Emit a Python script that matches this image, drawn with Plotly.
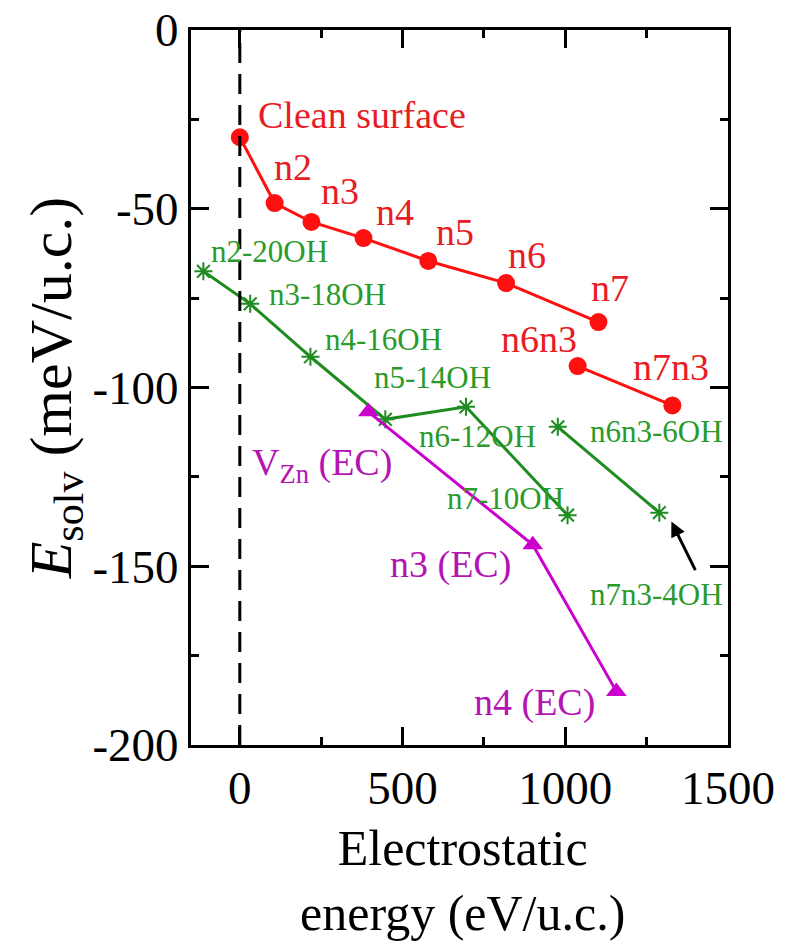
import plotly.graph_objects as go

# ---------------- data ----------------
red1_labels = ["Clean surface", "n2", "n3", "n4", "n5", "n6", "n7"]
red1_x = [0, 107, 220, 380, 579, 818, 1102]
red1_y = [-30, -48.4, -53.7, -58.2, -64.6, -70.8, -81.7]

red2_labels = ["n6n3", "n7n3"]
red2_x = [1038, 1329]
red2_y = [-94, -105]

green1_labels = ["n2-20OH", "n3-18OH", "n4-16OH", "n5-14OH", "n6-12OH", "n7-10OH"]
green1_x = [-112, 32, 217, 447, 695, 1007]
green1_y = [-67.5, -76.6, -91.4, -108.9, -105.4, -135.7]

green2_labels = ["n6n3-6OH", "n7n3-4OH"]
green2_x = [977, 1289]
green2_y = [-111, -135]

mag_labels = ["V<sub>Zn</sub> (EC)", "n3 (EC)", "n4 (EC)"]
mag_x = [395, 900, 1157]
mag_y = [-106.8, -144, -185]

x_ticks = [0, 500, 1000, 1500]
y_ticks = [0, -50, -100, -150, -200]

# ---------------- style ----------------
RED = "#ff1010"
RED_T = "#e81c24"
GREEN = "#1e8c1e"
GREEN_T = "#2a9a2a"
MAG = "#cc00cc"
MAG_T = "#b414b4"
SERIF = "Liberation Serif"

red1_off = [(16, 22, "left"), (18, 36, "center"), (29, 31, "center"), (32, 26, "center"),
            (27, 29, "center"), (21, 28, "center"), (12, 34, "center")]
red2_off = [(-39, 27, "center"), (-1, 38, "center")]
green1_off = [(66, 20, "center"), (77, 9, "center"), (73, 17, "center"), (47, 42, "center"),
              (11, -30, "center"), (-62, 17, "center")]
green2_off = [(99, -5, "center"), (-3, -82, "center")]
mag_off = [(-46, -53, "center"), (-82, -20, "center"), (-82, -11, "center")]

fig = go.Figure()

def add_series(xs, ys, color, symbol, size, lw, mline=0):
    fig.add_trace(go.Scatter(
        x=xs, y=ys, mode="lines+markers",
        line=dict(color=color, width=lw),
        marker=dict(symbol=symbol, size=size, color=color,
                    line=dict(color=color, width=mline)),
        showlegend=False, cliponaxis=False, hoverinfo="skip"))

add_series(red1_x, red1_y, RED, "circle", 18, 3)
add_series(red2_x, red2_y, RED, "circle", 18, 3)
add_series(green1_x, green1_y, GREEN, "asterisk-open", 15, 3, 2)
add_series(green2_x, green2_y, GREEN, "asterisk-open", 15, 3, 2)
add_series(mag_x, mag_y, MAG, "triangle-up", 18, 3)

def add_labels(labels, xs, ys, offs, color, size):
    for t, x, y, (dx, dy, anc) in zip(labels, xs, ys, offs):
        fig.add_annotation(x=x, y=y, text=t, showarrow=False,
                           xshift=dx, yshift=dy, xanchor=anc, yanchor="middle",
                           font=dict(family=SERIF, size=size, color=color))

add_labels(red1_labels, red1_x, red1_y, red1_off, RED_T, 38)
add_labels(red2_labels, red2_x, red2_y, red2_off, RED_T, 38)
add_labels(green1_labels, green1_x, green1_y, green1_off, GREEN_T, 31)
add_labels(green2_labels, green2_x, green2_y, green2_off, GREEN_T, 31)
add_labels(mag_labels, mag_x, mag_y, mag_off, MAG_T, 38)

# arrow pointing to n7n3-4OH
fig.add_annotation(x=1326, y=-137.5, ax=1402, ay=-151.5, xref="x", yref="y",
                   axref="x", ayref="y", showarrow=True, arrowhead=2,
                   arrowsize=1, arrowwidth=3, arrowcolor="black", text="")

# dashed line at x = 0
fig.add_shape(type="line", x0=0, x1=0, y0=-200, y1=0, xref="x", yref="y",
              line=dict(color="black", width=3, dash="20px,11px"))

axis_common = dict(showline=True, linewidth=3, linecolor="black", mirror="ticks",
                   ticks="inside", ticklen=18, tickwidth=2.5, tickcolor="black",
                   showgrid=False, zeroline=False, ticklabeloverflow="allow",
                   tickfont=dict(family=SERIF, size=47, color="black"))

fig.update_xaxes(range=[-150, 1500], tickvals=x_ticks,
                 ticktext=[str(v) for v in x_ticks],
                 minor=dict(ticks="inside", ticklen=8, tickwidth=2.5, tickcolor="black",
                            tick0=0, dtick=250),
                 ticklabelstandoff=0, **axis_common)
fig.update_yaxes(range=[-200, 0], tickvals=y_ticks,
                 ticktext=[str(v) for v in y_ticks],
                 minor=dict(ticks="inside", ticklen=8, tickwidth=2.5, tickcolor="black",
                            tick0=0, dtick=25),
                 ticklabelstandoff=0,
                 title=dict(text="<i>E</i><sub>solv</sub> (meV/u.c.)", standoff=2,
                            font=dict(family=SERIF, size=60, color="black")),
                 **axis_common)

# x axis title (two lines)
fig.add_annotation(xref="paper", yref="paper", x=0.5065, y=-0.189,
                   text="Electrostatic<br>energy (eV/u.c.)",
                   showarrow=False, xanchor="center", yanchor="middle",
                   font=dict(family=SERIF, size=50, color="black"))

# partial text at right edge (cut off in the reference)
for t, py in [("I", 416), ("e", 456), ("p", 494)]:
    fig.add_annotation(xref="paper", yref="paper", x=(777 - 191) / 537,
                       y=(745 - py) / 715, text=t, showarrow=False,
                       xanchor="left", yanchor="middle",
                       font=dict(family="Open Sans", size=40, color="black"))

# page body has an 8px margin, so shift the plot area accordingly
fig.update_layout(width=788, height=945,
                  margin=dict(l=183, r=68, t=22, b=208, autoexpand=False),
                  paper_bgcolor="white", plot_bgcolor="white")

fig.write_html("out.html")
